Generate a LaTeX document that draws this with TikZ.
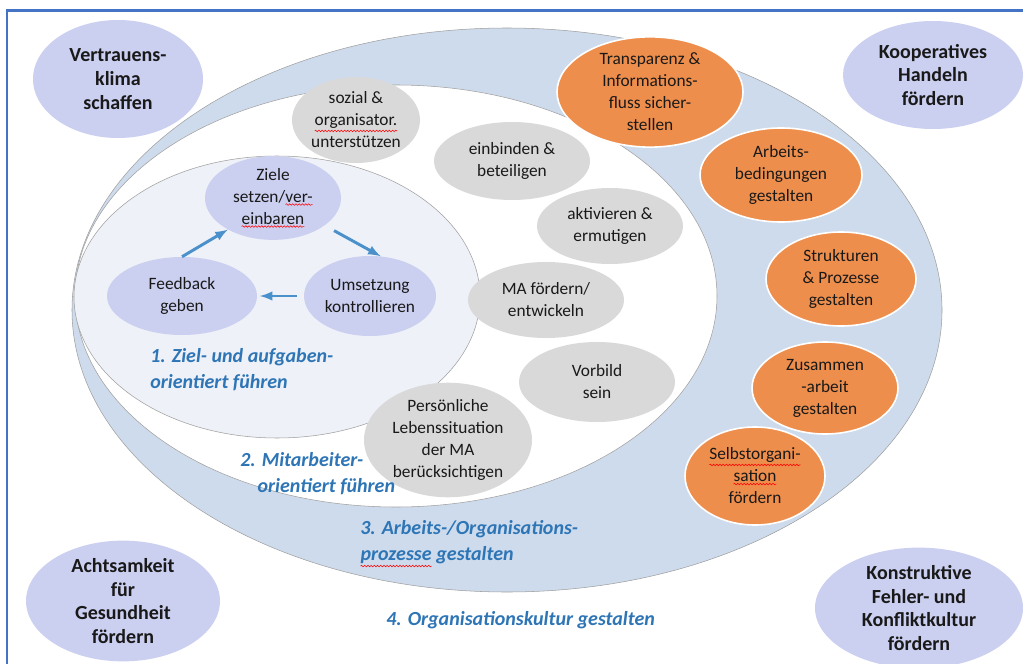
\documentclass[tikz,border=0pt]{standalone}
\usepackage{fontspec}
\setmainfont{Carlito}
\usetikzlibrary{positioning,shapes.geometric,decorations.pathmorphing}

\definecolor{lavender}{RGB}{203,207,240}
\definecolor{bandblue}{RGB}{206,219,236}
\definecolor{coreblue}{RGB}{238,241,247}
\definecolor{softgray}{RGB}{217,217,217}
\definecolor{orangefill}{RGB}{238,142,76}
\definecolor{labelblue}{RGB}{46,117,182}
\definecolor{arrowblue}{RGB}{74,144,203}
\definecolor{frameblue}{RGB}{68,114,196}
\definecolor{textdark}{RGB}{25,25,25}

% red wavy underline under a word
\newcommand\spellmark[1]{\tikz[baseline=(sm.base)]{%
  \node[shape=rectangle, inner sep=0pt, outer sep=0pt, draw=none, fill=none,
    minimum width=0pt, minimum height=0pt] (sm) {#1};
  \draw[red, line width=0.4pt, decorate, decoration={snake, amplitude=0.6pt, segment length=2.4pt}]
    ([yshift=-1.5pt]sm.south west) -- ([yshift=-1.5pt]sm.south east);}}

\tikzset{
  blob/.style 2 args={ellipse, inner sep=0pt, align=center, text=textdark,
    minimum width=#1*0.75pt, minimum height=#2*0.75pt},
  corner/.style={fill=lavender, font=\bfseries\fontsize{15}{17.8}\selectfont},
  core/.style={fill=lavender, font=\fontsize{13}{16.5}\selectfont},
  leader/.style={fill=softgray, font=\fontsize{13}{16.5}\selectfont},
  process/.style={fill=orangefill, draw=white, line width=1.2pt, font=\fontsize{13}{16.5}\selectfont},
  level/.style={anchor=west, inner sep=0pt, align=left, text=labelblue,
    font=\bfseries\itshape\fontsize{15}{19.5}\selectfont},
  flow/.style={->, arrowblue, line width=2.2pt},
}

\begin{document}
\begin{tikzpicture}[>=latex,x=0.75pt,y=-0.75pt]
\useasboundingbox (0,0) rectangle (1023,663);
\clip (0,0) rectangle (1023,663);
\draw[frameblue, line width=1.6pt] (7,10.5) rectangle (1040,690);
%% the nested areas
  \draw[gray!75, fill=bandblue] (507,310) ellipse [x radius=435, y radius=282];
  \draw[gray!75, fill=white] (396,296) ellipse [x radius=321, y radius=211];
  \draw[gray!75, fill=coreblue] (277,297) ellipse [x radius=203, y radius=141];

%% corners
  \node (node_trust) at (118,79) [blob={170}{118}, corner] {Vertrauens-\\klima\\schaffen};
  \node (node_coop) at (933,75) [blob={180}{108}, corner] {Kooperatives\\Handeln\\fördern};
  \node (node_care) at (123,601) [blob={194}{112}, corner] {Achtsamkeit\\für\\Gesundheit\\fördern};
  \node (node_culture) at (919,608) [blob={208}{114}, corner] {Konstruktive\\Fehler- und\\Konfliktkultur\\fördern};

%% 1. goals cycle
  \node (node_goals) at (273,198) [blob={136}{80}, core] {Ziele\\setzen/\spellmark{ver-}\\\spellmark{einbaren}};
  \node (node_feedback) at (182,296) [blob={150}{78}, core] {Feedback\\geben};
  \node (node_control) at (370,296) [blob={132}{80}, core] {Umsetzung\\kontrollieren};

  \draw [flow] (node_feedback.north) -- (node_goals.215);
  \draw [flow, shorten <=8pt] (node_goals.-28) -- (node_control.75);
  \draw [flow, shorten <=5pt, shorten >=2pt] (node_control.west) -- (node_feedback.east);

  \node (node_level_1) at (150,370) [level] {1. Ziel- und aufgaben-\\orientiert führen};

%% 2. staff
  \node (node_support) at (356,120) [blob={128}{86}, leader] {sozial \&\\\spellmark{organisator.}\\unterstützen};
  \node (node_involve) at (512,161) [blob={156}{78}, leader] {einbinden \&\\beteiligen};
  \node (node_activate) at (610,226) [blob={146}{76}, leader] {aktivieren \&\\ermutigen};
  \node (node_develop) at (546,300) [blob={156}{76}, leader] {MA fördern/\\entwickeln};
  \node (node_model) at (597,382) [blob={156}{80}, leader] {Vorbild\\sein};
  \node (node_life) at (448,440) [blob={168}{96}, leader] {Persönliche\\Lebenssituation\\der MA\\berücksichtigen};

  \node (node_level_2) at (240,474) [level] {2. Mitarbeiter-\\\hspace*{13pt}orientiert führen};

%% 3. processes
  \node (node_info) at (650,92) [blob={186}{94}, process] {Transparenz \&\\Informations-\\fluss sicher-\\stellen};
  \node (node_conditions) at (781,175) [blob={162}{94}, process] {Arbeits-\\bedingungen\\gestalten};
  \node (node_structures) at (841,279) [blob={150}{94}, process] {Strukturen\\\& Prozesse\\gestalten};
  \node (node_teamwork) at (825,388) [blob={146}{92}, process] {Zusammen\\-arbeit\\gestalten};
  \node (node_selforg) at (755,476) [blob={140}{98}, process] {\spellmark{Selbstorgani-}\\\spellmark{sation}\\fördern};

  \node (node_level_3) at (360,544) [level] {3. Arbeits-/Organisations-\\\spellmark{prozesse} gestalten};

%% 4. culture
  \node (node_level_4) at (386,620) [level] {4. Organisationskultur gestalten};
%
\end{tikzpicture}
\end{document}
